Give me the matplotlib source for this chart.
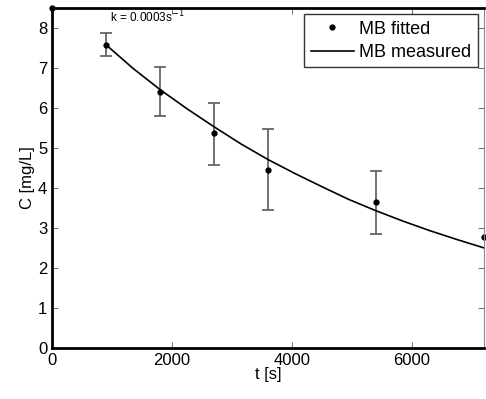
import numpy as np
import matplotlib.pyplot as plt

plt.rcParams['font.family'] = ['Liberation Sans', 'DejaVu Sans']

# measured points with error bars
t_pts = [0, 900, 1800, 2700, 3600, 5400, 7200]
c_pts = [8.5, 7.58, 6.40, 5.37, 4.46, 3.65, 2.78]
err_t = [900, 1800, 2700, 3600, 5400]
err_c = [7.58, 6.40, 5.37, 4.46, 3.65]
err_lo = [0.29, 0.60, 0.79, 1.02, 0.80]
err_hi = [0.29, 0.63, 0.75, 1.02, 0.78]

# fitted curve
t_fit = [900, 1350, 1800, 2250, 2700, 3150, 3600, 4050, 4500, 4950, 5400,
         5850, 6300, 6750, 7200]
c_fit = [7.58, 6.99, 6.46, 5.98, 5.53, 5.10, 4.71, 4.36, 4.03, 3.71, 3.43,
         3.17, 2.93, 2.71, 2.50]

fig = plt.figure(figsize=(4.86, 3.99), dpi=100)
ax = fig.add_axes([0.107, 0.128, 0.889, 0.852])

ax.errorbar(err_t, err_c, yerr=[err_lo, err_hi], fmt='none',
            ecolor='#666666', elinewidth=1.3, capsize=4.5, capthick=1.3)
ax.plot(t_pts, c_pts, 'k.', markersize=7, clip_on=False, label='MB fitted')
ax.plot(t_fit, c_fit, 'k-', linewidth=1.2, label='MB measured')

ax.text(1580, 8.28, r'k = 0.0003s$^{-1}$', fontsize=8.5, ha='center', va='center')

ax.set_xlim(0, 7200)
ax.set_ylim(0, 8.5)
ax.set_xticks([0, 2000, 4000, 6000])
ax.set_yticks(range(0, 9))
ax.set_xlabel('t [s]', fontsize=12, labelpad=-1)
ax.set_ylabel('C [mg/L]', fontsize=12, labelpad=2)
ax.tick_params(axis='x', pad=4)
ax.tick_params(direction='in', labelsize=12, length=4, width=0.6,
               top=True, right=True, colors='#555555', labelcolor='black')

for s in ['left', 'bottom', 'top']:
    ax.spines[s].set_linewidth(2)
    ax.spines[s].set_color('black')
ax.spines['right'].set_linewidth(0.8)
ax.spines['right'].set_color('#888888')

leg = ax.legend(loc='upper right', fontsize=13, frameon=True, fancybox=False,
                edgecolor='black', borderpad=0.35, handlelength=2.4,
                handletextpad=0.3, borderaxespad=0.35, labelspacing=0.35)
leg.get_frame().set_linewidth(1.0)

fig.savefig('out.png', dpi=100)
